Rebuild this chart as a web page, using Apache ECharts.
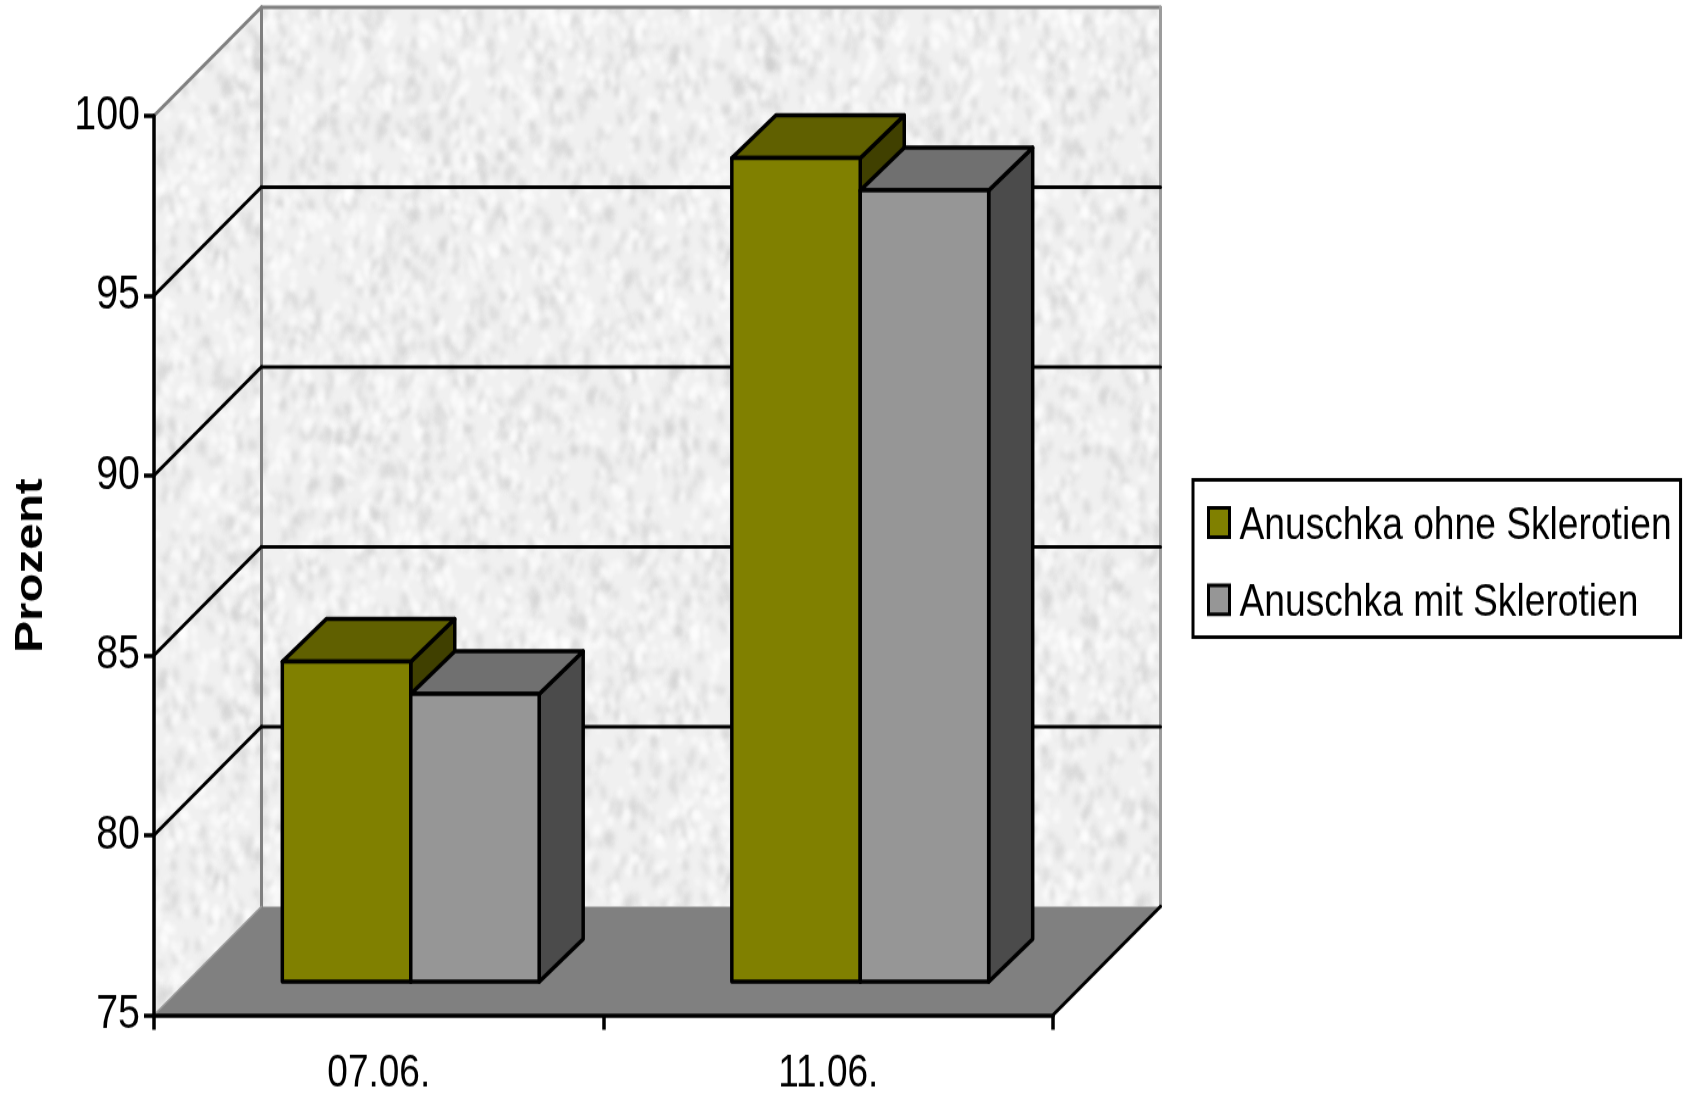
<!DOCTYPE html>
<html lang="de">
<head>
<meta charset="utf-8">
<title>Anuschka</title>
<style>
html,body{margin:0;padding:0;background:#fff}
body{width:1688px;height:1095px;overflow:hidden}
/* The chart is laid out on a shorter stage and stretched to full height, which gives the tall narrow lettering */
#chart{width:1688px;height:898px;transform-origin:0 0;transform:scaleY(1.21938)}
</style>
<script src="https://cdn.jsdelivr.net/npm/echarts@6/dist/echarts.min.js"></script>
</head>
<body>
<div id="chart"></div>
<script>
// Werte je Termin
const categories = ['07.06.', '11.06.'];
const ohneSklerotien = [83.9, 97.9];
const mitSklerotien = [83, 97];
const seriesNames = ['Anuschka ohne Sklerotien', 'Anuschka mit Sklerotien'];
const yMin = 75, yMax = 100, yStep = 5;
const wallGridValues = [80, 85, 90, 95];

// Perspective of the pseudo-3D box, in stage pixels
const WALL_DX = 107.5, WALL_DY = -89;
const BAR_FRONT_DX = 32, BAR_FRONT_DY = -27.3;
const BAR_DEPTH_DX = 44, BAR_DEPTH_DY = -35;
const BAR_FRACTION = 1 / 3.5;

const FONT = '"Liberation Sans", Arial, sans-serif';

// Mottled paper texture for the walls, from a small deterministic hash
function makeTexture() {
  const size = 512;
  const c = document.createElement('canvas');
  c.width = c.height = size;
  const g = c.getContext('2d');
  g.fillStyle = '#f0f0f0';
  g.fillRect(0, 0, size, size);
  let h = 20240607;
  const next = () => {
    h = (Math.imul(h ^ (h >>> 15), 2246822519) + 0x9e3779b9) | 0;
    h = Math.imul(h ^ (h >>> 13), 3266489917);
    return ((h ^ (h >>> 16)) >>> 0) / 4294967296;
  };
  g.filter = 'blur(2px)';
  for (let i = 0; i < 3200; i++) {
    const x = next() * size, y = next() * size;
    const light = next() > 0.45;
    g.fillStyle = light ? 'rgba(255,255,255,0.65)' : 'rgba(205,205,205,0.45)';
    const rx = 1.8 + next() * 2.6, ry = 2.5 + next() * 5;
    const rot = (next() - 0.5) * 1.2;
    for (const ox of [-size, 0, size]) for (const oy of [-size, 0, size]) {
      if (Math.abs(x + ox - size / 2) < size / 2 + 16 && Math.abs(y + oy - size / 2) < size / 2 + 16) {
        g.beginPath();
        g.ellipse(x + ox, y + oy, rx, ry, rot, 0, Math.PI * 2);
        g.fill();
      }
    }
  }
  return c;
}
const wallFill = { image: makeTexture(), repeat: 'repeat' };

const shift = (p, dx, dy) => [p[0] + dx, p[1] + dy];
const poly = (points, style, z2) => ({ type: 'polygon', z2, shape: { points }, style });
const seg = (a, b, stroke, lineWidth, z2) => ({
  type: 'line', z2, shape: { x1: a[0], y1: a[1], x2: b[0], y2: b[1] },
  style: { stroke, lineWidth, lineCap: 'round' }
});

// Side wall, back wall, floor and the gridlines running over both walls
function renderBox(params, api) {
  const band = api.size([1, 0])[0];
  const left = v => shift(api.coord([0, v]), -band / 2, 0);
  const right = v => shift(api.coord([categories.length - 1, v]), band / 2, 0);
  const back = p => shift(p, WALL_DX, WALL_DY);
  const a = left(yMin), b = right(yMin), t = left(yMax), r = right(yMax);
  const edge = '#808080';
  const children = [
    poly([t, back(t), back(a), a], { fill: wallFill }, 1),
    poly([back(t), back(r), back(b), back(a)], { fill: wallFill }, 1),
    poly([a, b, back(b), back(a)], { fill: '#808080' }, 2),
    seg(back(t), back(r), edge, 3, 3),
    seg(back(t), back(a), edge, 3, 3),
    seg(back(r), back(b), '#9c9c9c', 3, 3),
    seg(t, back(t), edge, 3, 3),
    seg(a, back(a), '#9a9a9a', 1.5, 3),
    seg(b, back(b), '#000000', 3, 3)
  ];
  wallGridValues.forEach(v => {
    const p = left(v), q = right(v);
    children.push(seg(p, back(p), '#000000', 3, 4));
    children.push(seg(back(p), back(q), '#000000', 3, 4));
  });
  return { type: 'group', children };
}

// One box-shaped bar; seriesPos is the bar's slot within the category
function barRenderer(seriesPos, colors) {
  return function (params, api) {
    const band = api.size([1, 0])[0];
    const w = band * BAR_FRACTION;
    const cx = api.coord([api.value(0), yMin])[0];
    const x0 = cx - w + seriesPos * w;
    const base = api.coord([api.value(0), yMin])[1] + BAR_FRONT_DY;
    const top = api.coord([api.value(0), api.value(1)])[1] + BAR_FRONT_DY;
    const xL = x0 + BAR_FRONT_DX, xR = xL + w;
    const d = (x, y) => [x + BAR_DEPTH_DX, y + BAR_DEPTH_DY];
    const line = { stroke: '#000', lineWidth: 3.5, lineJoin: 'round' };
    return {
      type: 'group',
      children: [
        poly([[xR, base], d(xR, base), d(xR, top), [xR, top]], { fill: colors[2], ...line }, 1),
        poly([[xL, top], [xR, top], d(xR, top), d(xL, top)], { fill: colors[1], ...line }, 2),
        poly([[xL, base], [xR, base], [xR, top], [xL, top]], { fill: colors[0], ...line }, 3)
      ]
    };
  };
}

const olive = ['#808000', '#606000', '#404000'];
const grey = ['#969696', '#707070', '#4b4b4b'];

const chart = echarts.init(document.getElementById('chart'), null, { renderer: 'canvas' });
chart.setOption({
  animation: false,
  backgroundColor: '#ffffff',
  grid: { left: 154, top: 94.9, width: 899, height: 737.5, outerBoundsMode: 'none' },
  xAxis: {
    type: 'category',
    data: categories,
    z: 5,
    axisLine: { show: true, lineStyle: { color: '#000', width: 3.5 } },
    axisTick: { show: true, length: 12, lineStyle: { color: '#000', width: 3.5 } },
    axisLabel: { color: '#000', fontFamily: FONT, fontSize: 37, margin: 30 },
    splitLine: { show: false }
  },
  yAxis: {
    type: 'value',
    min: yMin, max: yMax, interval: yStep,
    z: 5,
    name: 'Prozent',
    nameLocation: 'middle',
    nameRotate: 90,
    nameGap: 103,
    nameTextStyle: { color: '#000', fontFamily: FONT, fontWeight: 'bold', fontSize: 39 },
    axisLine: { show: true, onZero: false, lineStyle: { color: '#000', width: 3.5 } },
    axisTick: { show: true, length: 10, lineStyle: { color: '#000', width: 3.5 } },
    axisLabel: { color: '#000', fontFamily: FONT, fontSize: 39.4, margin: 14 },
    splitLine: { show: false }
  },
  legend: {
    left: 1193, top: 393.6,
    orient: 'vertical',
    padding: [19.4, 9, 9, 14],
    itemGap: 26.4,
    itemWidth: 21, itemHeight: 23.8,
    itemStyle: { borderColor: '#000', borderWidth: 3 },
    borderColor: '#000', borderWidth: 3,
    backgroundColor: '#fff',
    icon: 'rect',
    formatter: name => '{t|' + name + '}',
    textStyle: {
      color: '#000',
      rich: { t: { color: '#000', fontFamily: FONT, fontSize: 37.2, padding: [6, 0, 0, 5] } }
    },
    data: seriesNames
  },
  series: [
    { type: 'custom', name: 'Wände', silent: true, z: 1, renderItem: renderBox, data: [[0]], encode: { x: 0 } },
    {
      type: 'custom', name: seriesNames[0], z: 2,
      itemStyle: { color: olive[0], borderColor: '#000', borderWidth: 3 },
      renderItem: barRenderer(0, olive),
      encode: { x: 0, y: 1 },
      data: categories.map((c, i) => [i, ohneSklerotien[i]])
    },
    {
      type: 'custom', name: seriesNames[1], z: 3,
      itemStyle: { color: grey[0], borderColor: '#000', borderWidth: 3 },
      renderItem: barRenderer(1, grey),
      encode: { x: 0, y: 1 },
      data: categories.map((c, i) => [i, mitSklerotien[i]])
    }
  ]
});
</script>
</body>
</html>
